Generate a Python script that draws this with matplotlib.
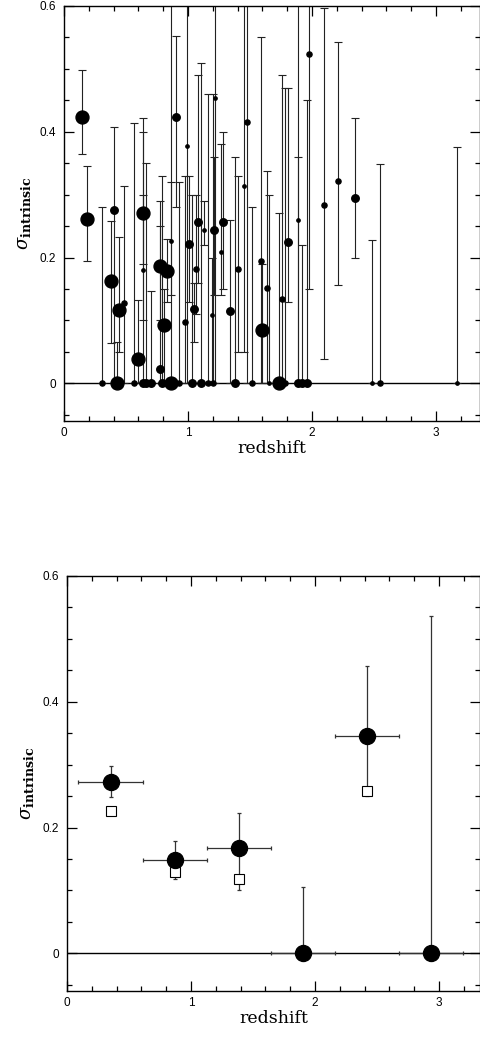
import matplotlib
matplotlib.use("Agg")
import matplotlib.pyplot as plt
from matplotlib.ticker import MultipleLocator, FixedLocator
import numpy as np

plt.rcParams["mathtext.fontset"] = "custom"
plt.rcParams["mathtext.rm"] = "DejaVu Serif"
plt.rcParams["mathtext.it"] = "DejaVu Serif:italic"
plt.rcParams["mathtext.bf"] = "DejaVu Serif:bold"

# ---------------- top panel: individual objects ----------------
z_obj = [0.148, 0.188, 0.31, 0.377, 0.40, 0.43, 0.443, 0.486, 0.565, 0.60,
         0.635, 0.635, 0.64, 0.66, 0.70, 0.774, 0.775, 0.79, 0.806, 0.833,
         0.86, 0.863, 0.90, 0.93, 0.978, 0.994, 1.008, 1.035, 1.05, 1.067,
         1.078, 1.105, 1.13, 1.165, 1.19, 1.207, 1.20, 1.218, 1.266, 1.282,
         1.336, 1.38, 1.405, 1.454, 1.478, 1.52, 1.586, 1.60, 1.635, 1.65,
         1.737, 1.758, 1.785, 1.806, 1.89, 1.89, 1.92, 1.96, 1.976, 2.097,
         2.207, 2.347, 2.484, 2.55, 3.17]
sig_obj = [0.424, 0.261, 0.0, 0.163, 0.276, 0.0, 0.116, 0.128, 0.0, 0.038,
           0.271, 0.0, 0.18, 0.0, 0.0, 0.187, 0.022, 0.0, 0.092, 0.178,
           0.227, 0.0, 0.423, 0.0, 0.098, 0.378, 0.221, 0.0, 0.118, 0.182,
           0.256, 0.0, 0.243, 0.0, 0.108, 0.244, 0.0, 0.453, 0.209, 0.256,
           0.115, 0.0, 0.182, 0.313, 0.416, 0.0, 0.195, 0.084, 0.151, 0.0,
           0.0, 0.134, 0.0, 0.225, 0.26, 0.0, 0.0, 0.0, 0.524, 0.283,
           0.322, 0.295, 0.0, 0.0, 0.0]
lo_obj = [0.364, 0.194, 0.0, 0.064, 0.0, 0.0, 0.05, 0.0, 0.0, 0.0,
          0.19, 0.0, 0.10, 0.0, 0.0, 0.10, 0.0, 0.0, 0.0, 0.13,
          0.14, 0.0, 0.28, 0.0, 0.0, 0.0, 0.13, 0.0, 0.065, 0.11,
          0.16, 0.0, 0.22, 0.0, 0.0, 0.14, 0.0, 0.0, 0.14, 0.15,
          0.0, 0.0, 0.05, 0.05, 0.0, 0.0, 0.0, 0.0, 0.0, 0.0,
          0.0, 0.0, 0.0, 0.13, 0.0, 0.0, 0.0, 0.0, 0.15, 0.038,
          0.156, 0.20, 0.0, 0.0, 0.0]
hi_obj = [0.498, 0.345, 0.281, 0.258, 0.408, 0.065, 0.232, 0.313, 0.414, 0.133,
          0.422, 0.40, 0.30, 0.35, 0.147, 0.29, 0.25, 0.33, 0.15, 0.23,
          0.32, 0.70, 0.552, 0.32, 0.33, 0.70, 0.33, 0.30, 0.16, 0.30,
          0.49, 0.51, 0.29, 0.46, 0.20, 0.36, 0.46, 0.70, 0.38, 0.40,
          0.26, 0.36, 0.33, 0.70, 0.70, 0.28, 0.55, 0.19, 0.337, 0.30,
          0.27, 0.49, 0.47, 0.47, 0.36, 0.70, 0.22, 0.45, 0.70, 0.597,
          0.543, 0.422, 0.228, 0.349, 0.375]
# relative weight of each object (drawn as marker size)
wt_obj = [4, 4, 2, 4, 3, 4, 4, 2, 2, 4,
          4, 3, 1, 3, 3, 4, 3, 3, 4, 4,
          1, 4, 3, 2, 2, 1, 3, 3, 3, 2,
          3, 3, 1, 2, 1, 3, 2, 1, 1, 3,
          3, 3, 2, 1, 2, 2, 2, 4, 2, 1,
          4, 2, 2, 3, 1, 3, 3, 3, 2, 2,
          2, 3, 1, 2, 1]

# ---------------- bottom panel: binned values ----------------
z_bin = [0.355, 0.87, 1.385, 1.905, 2.42, 2.935]
z_bin_lo = [0.09, 0.61, 1.126, 1.645, 2.16, 2.68]
z_bin_hi = [0.61, 1.13, 1.645, 2.165, 2.68, 3.195]
sig_bin = [0.272, 0.148, 0.167, 0.0, 0.346, 0.0]
sig_bin_lo = [0.248, 0.118, 0.10, 0.0, 0.25, 0.0]
sig_bin_hi = [0.298, 0.178, 0.223, 0.1055, 0.457, 0.536]
sig_alt = [0.2266, 0.130, 0.118, np.nan, 0.258, np.nan]

xticks = [0, 1, 2, 3]
xticklabels = ["0", "1", "2", "3"]
yticks = [0, 0.2, 0.4, 0.6]
yticklabels = ["0", "0.2", "0.4", "0.6"]

W, H = 480, 1038
fig = plt.figure(figsize=(W / 100, H / 100), dpi=100)

ax1 = fig.add_axes([64 / W, 1 - 421 / H, (480 - 64) / W, (421 - 6) / H])
ax2 = fig.add_axes([67 / W, 1 - 991 / H, (480 - 67) / W, (991 - 576) / H])

size_map = {1: 2.4, 2: 3.7, 3: 5.4, 4: 9.3}


def style_axes(ax, xmax):
    ax.set_xlim(0, xmax)
    ax.set_ylim(-0.06, 0.6)
    ax.xaxis.set_major_locator(FixedLocator(xticks))
    ax.set_xticklabels(xticklabels, fontfamily="Liberation Sans", fontsize=8.5)
    ax.yaxis.set_major_locator(FixedLocator(yticks))
    ax.set_yticklabels(yticklabels, fontfamily="Liberation Sans", fontsize=8.5)
    ax.xaxis.set_minor_locator(MultipleLocator(0.2))
    ax.yaxis.set_minor_locator(MultipleLocator(0.05))
    ax.tick_params(which="both", direction="in", top=True, right=True,
                   width=0.9, colors="black")
    ax.tick_params(which="major", length=7)
    ax.tick_params(which="minor", length=3.5)
    ax.tick_params(axis="x", which="major", pad=4)
    ax.tick_params(axis="y", which="major", pad=6)
    for s in ax.spines.values():
        s.set_linewidth(1.0)
    ax.set_xlabel("redshift", fontfamily="DejaVu Serif", fontsize=12.5, labelpad=1)
    ax.set_ylabel(r"$\sigma_{\mathbf{intrinsic}}$", fontsize=13)
    ax.yaxis.set_label_coords(-0.075, 0.5)
    ax.axhline(0, color="black", lw=1.0, zorder=1)


# top panel
style_axes(ax1, (480 - 64) / 124)
z_arr = np.array(z_obj)
s_arr = np.array(sig_obj)
yerr = np.vstack([s_arr - np.array(lo_obj), np.array(hi_obj) - s_arr])
ax1.errorbar(z_arr, s_arr, yerr=yerr, fmt="none", ecolor="#222222",
             elinewidth=0.8, capsize=3, capthick=0.8, zorder=2)
for z, s, w in zip(z_obj, sig_obj, wt_obj):
    ax1.plot(z, s, "o", color="black", ms=size_map[w], mec="black", zorder=3)

# bottom panel
style_axes(ax2, (480 - 67) / 124)
zb = np.array(z_bin)
sb = np.array(sig_bin)
xerr = np.vstack([zb - np.array(z_bin_lo), np.array(z_bin_hi) - zb])
yerr2 = np.vstack([sb - np.array(sig_bin_lo), np.array(sig_bin_hi) - sb])
ax2.errorbar(zb, sb, xerr=xerr, yerr=yerr2, fmt="none", ecolor="#333333",
             elinewidth=0.9, capsize=1.5, capthick=0.9, zorder=2)
ax2.plot(zb, sb, "o", color="black", ms=11.5, zorder=4)
ax2.plot(zb, sig_alt, "s", mfc="white", mec="black", mew=0.8, ms=7, ls="none", zorder=3)

fig.savefig("out.png", dpi=100)
